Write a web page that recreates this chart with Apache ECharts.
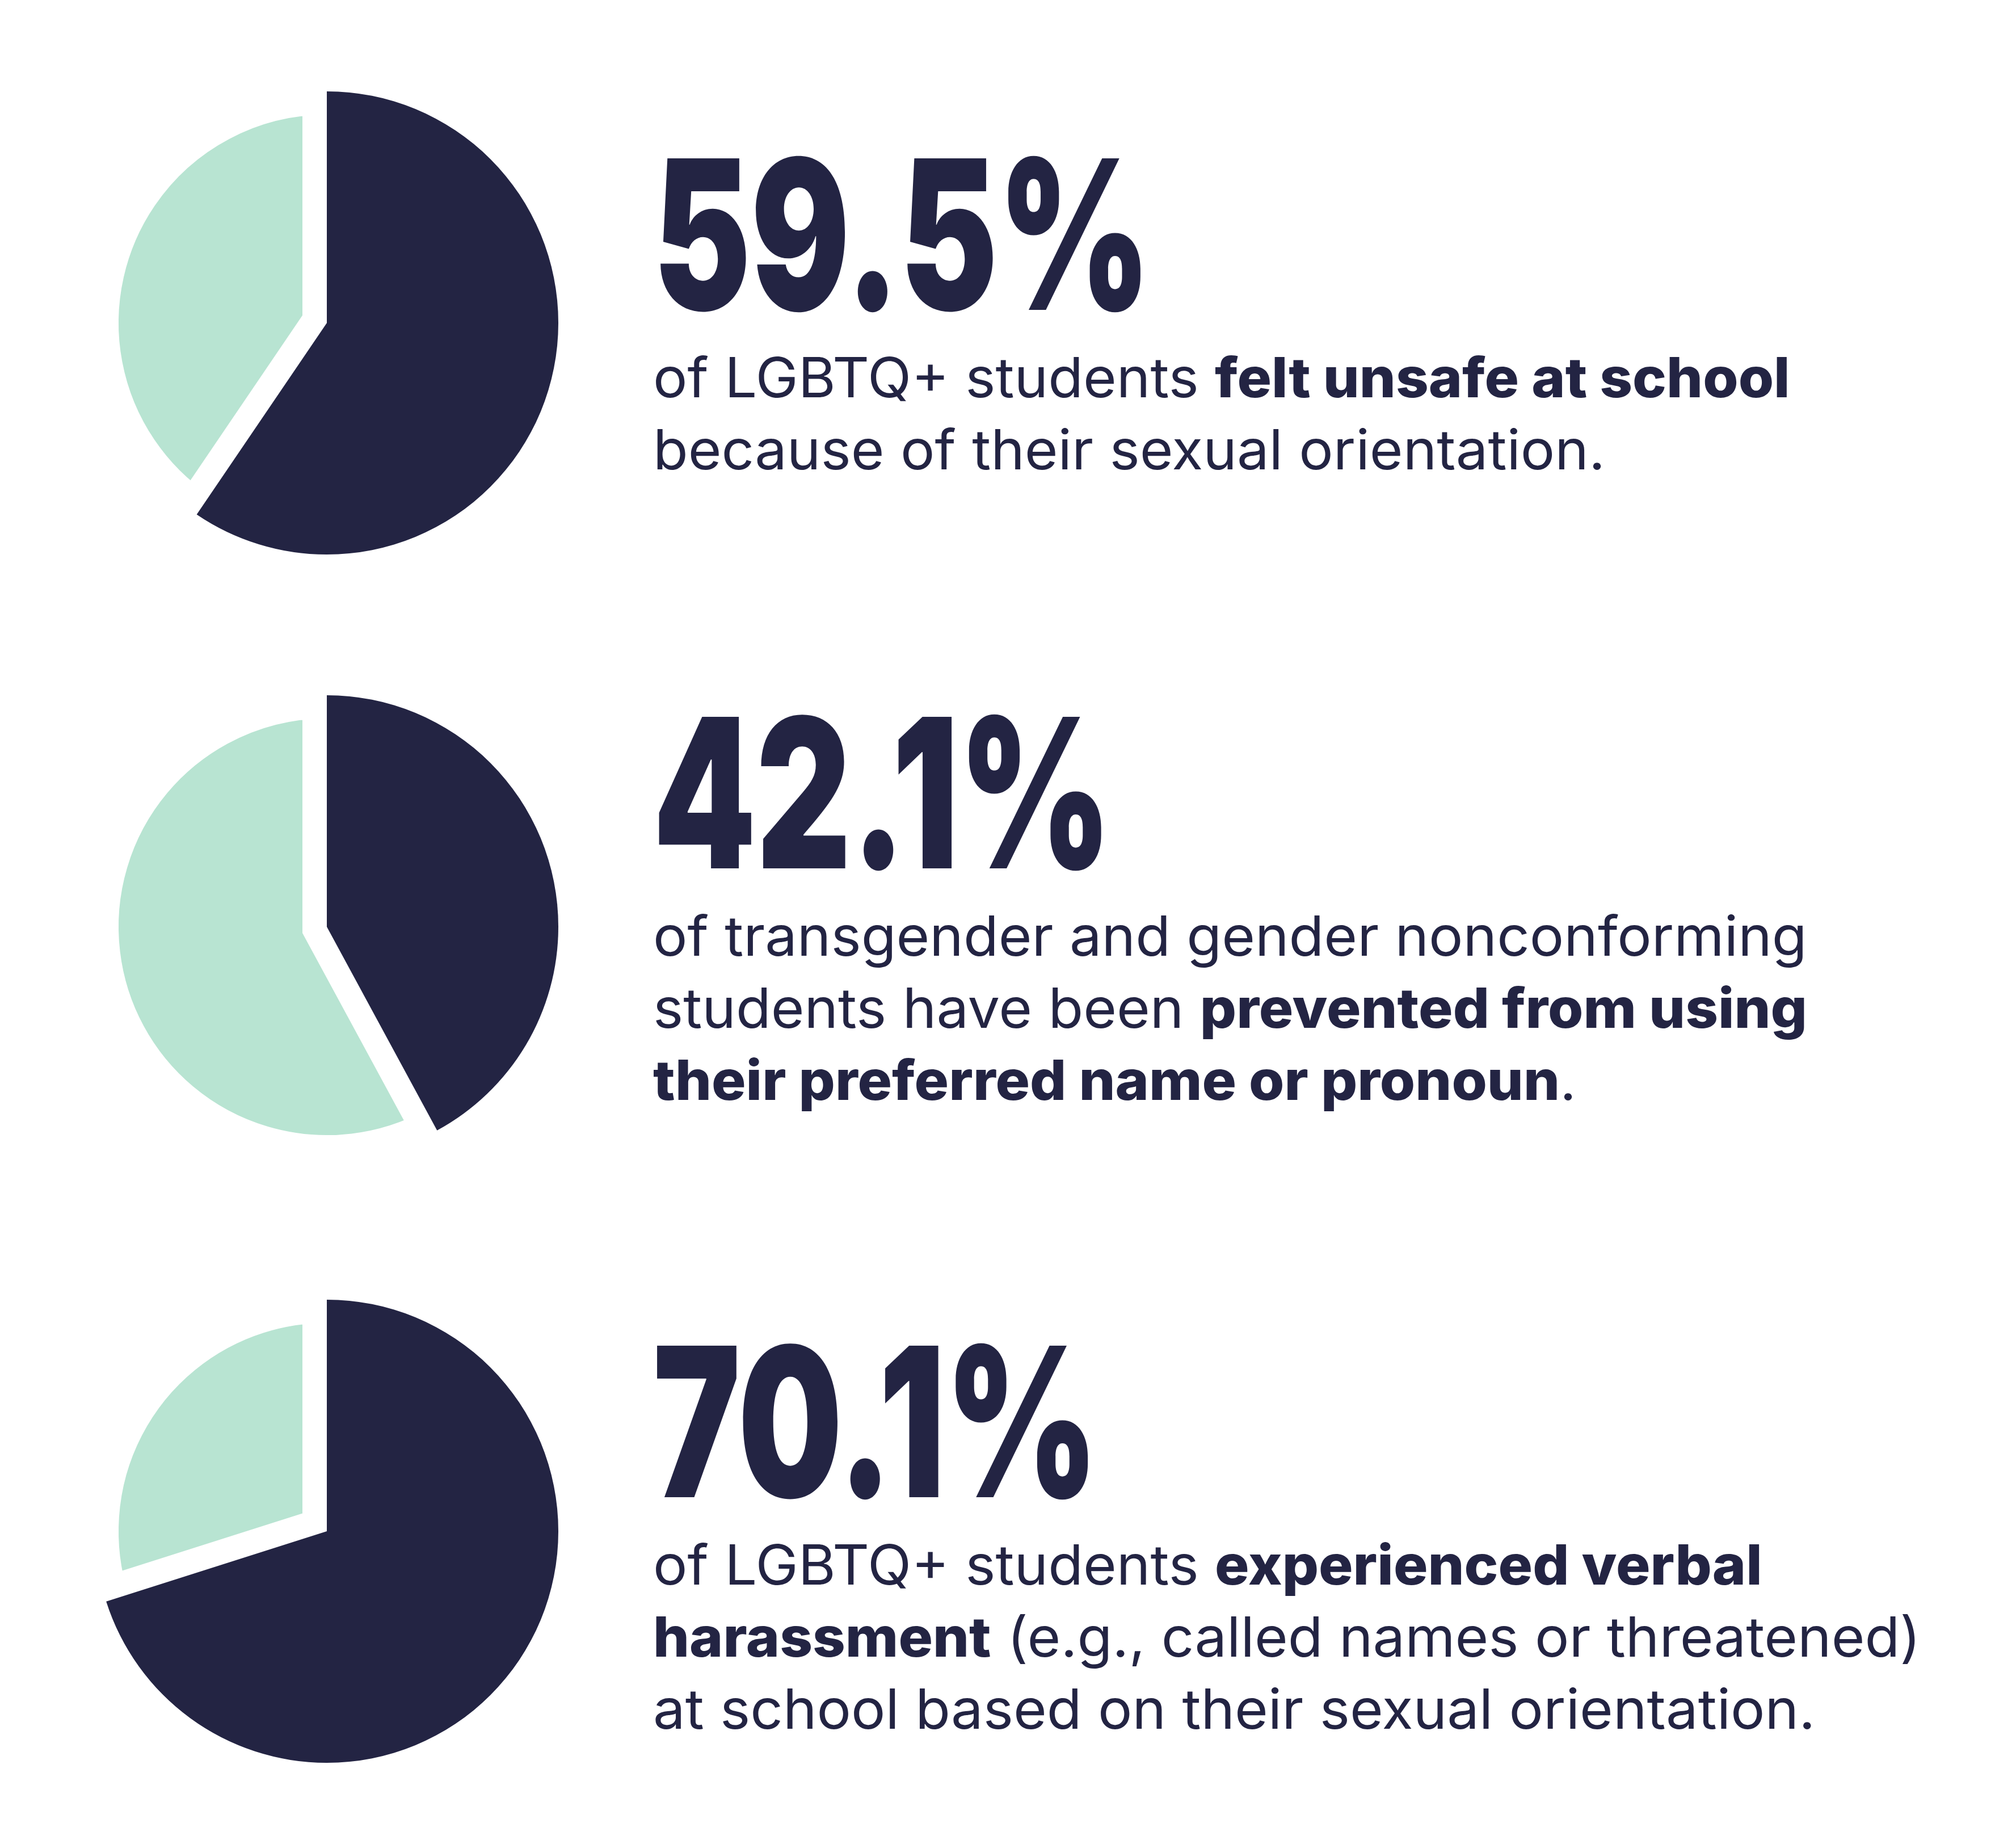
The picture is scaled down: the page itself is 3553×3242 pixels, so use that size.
<!DOCTYPE html>
<html><head><meta charset="utf-8">
<script src="https://cdn.jsdelivr.net/npm/echarts@6/dist/echarts.min.js"></script>
<style>html,body{margin:0;padding:0;background:#fff}#c{width:3553px;height:3242px}</style>
</head><body><div id="c"></div>
<script>
// ---- data ----
const darkPct = [59.5, 42.1, 70.1];
const lightPct = [40.5, 57.9, 29.9];
const statLabels = ['59.5%', '42.1%', '70.1%'];
const bodyLines = [
  ['{r|of LGBTQ+ students }{b|felt unsafe at school}',
   '{r|because of their sexual orientation.}'],
  ['{r|of transgender and gender nonconforming}',
   '{r|students have been }{b|prevented from using}',
   '{b|their preferred name or pronoun}{r|.}'],
  ['{r|of LGBTQ+ students }{b|experienced verbal}',
   '{b|harassment}{r| (e.g., called names or threatened)}',
   '{r|at school based on their sexual orientation.}']
];

// ---- layout ----
const DARK = '#232443', LIGHT = '#b8e4d2';
const pieCX = 576, pieCY = [569, 1633, 2698];
const R = 408, GAP = 43;
const textX = 1151;
const numBaseline = [545, 1529, 2637];
const numSize = 367, numScale = 0.705, numShift = 24;
const bodySize = 97, bodyScale = 1.04, bodyShift = 10;
const firstLineOffset = 151, lineStep = 127;

const series = [];
darkPct.forEach((d, i) => {
  // light slice with thick white border (creates the constant-width gap)
  series.push({
    type: 'pie', silent: true, animation: false, z: 1,
    center: [pieCX, pieCY[i]], radius: [0, R + 2],
    startAngle: 90, clockwise: true,
    label: { show: false }, labelLine: { show: false },
    data: [
      { value: d, itemStyle: { color: 'rgba(0,0,0,0)', borderWidth: 0 } },
      { value: lightPct[i], itemStyle: { color: LIGHT, borderColor: '#ffffff', borderWidth: GAP * 2, borderJoin: 'miter', borderMiterLimit: 20 } }
    ]
  });
  // dark slice on top
  series.push({
    type: 'pie', silent: true, animation: false, z: 2,
    center: [pieCX, pieCY[i]], radius: [0, R],
    startAngle: 90, clockwise: true,
    label: { show: false }, labelLine: { show: false },
    data: [
      { value: d, itemStyle: { color: DARK, borderWidth: 0 } },
      { value: lightPct[i], itemStyle: { color: 'rgba(0,0,0,0)', borderWidth: 0 } }
    ]
  });
});

const graphic = [];
statLabels.forEach((s, i) => {
  graphic.push({
    type: 'text', x: textX, y: numBaseline[i] - 0.3635 * numSize + numShift, scaleX: numScale, silent: true,
    style: { text: s, fontFamily: 'Inter', fontWeight: 900, fontSize: numSize, fill: DARK, align: 'left', verticalAlign: 'middle' }
  });
  bodyLines[i].forEach((ln, j) => {
    graphic.push({
      type: 'text', x: textX, y: numBaseline[i] + firstLineOffset + j * lineStep - 0.3635 * bodySize + bodyShift,
      scaleX: bodyScale, silent: true,
      style: {
        text: ln, align: 'left', verticalAlign: 'middle',
        rich: {
          r: { fontFamily: 'Inter', fontSize: bodySize, fontWeight: 400, fill: DARK, lineHeight: bodySize },
          b: { fontFamily: 'Inter', fontSize: bodySize, fontWeight: 800, fill: DARK, lineHeight: bodySize }
        }
      }
    });
  });
});

const chart = echarts.init(document.getElementById('c'), null, { renderer: 'canvas' });
chart.setOption({ backgroundColor: '#ffffff', animation: false, series, graphic });
</script></body></html>
